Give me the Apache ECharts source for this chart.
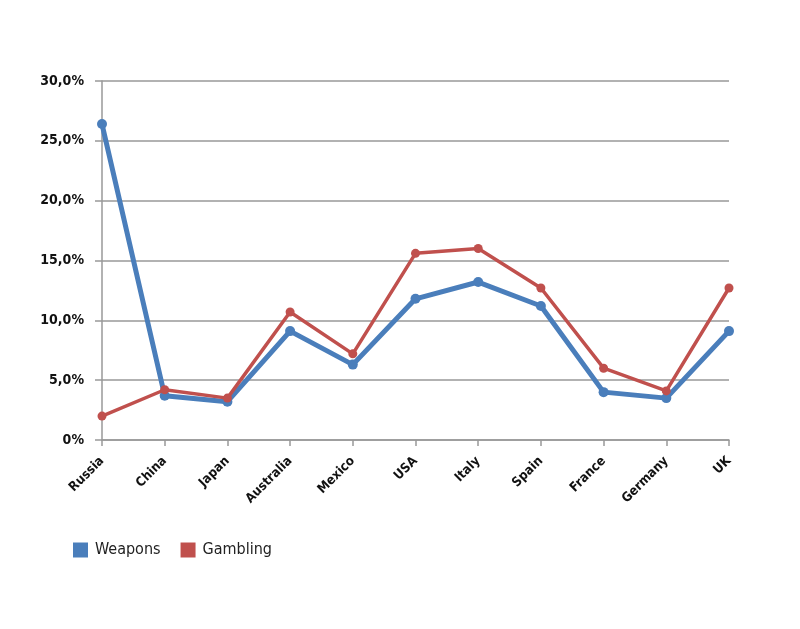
<!DOCTYPE html>
<html><head><meta charset="utf-8">
<script src="https://cdn.jsdelivr.net/npm/echarts@6/dist/echarts.min.js"></script>
<style>html,body{margin:0;padding:0;background:#fff}#c{width:800px;height:629px}</style>
</head><body><div id="c"></div>
<script>
const categories = ['Russia','China','Japan','Australia','Mexico','USA','Italy','Spain','France','Germany','UK'];
const weapons = [26.4, 3.7, 3.2, 9.1, 6.3, 11.8, 13.2, 11.2, 4.0, 3.5, 9.1];
const gambling = [2.0, 4.2, 3.5, 10.7, 7.2, 15.6, 16.0, 12.7, 6.0, 4.1, 12.7];
const yTicks = [0, 5, 10, 15, 20, 25, 30];

const FONT = "'DejaVu Sans Condensed', 'Liberation Sans Narrow', 'Arial Narrow', sans-serif";
const chart = echarts.init(document.getElementById('c'));
chart.setOption({
  animation: false,
  backgroundColor: '#fff',
  grid: { left: 102, right: 71, top: 81, bottom: 189, containLabel: false },
  legend: {
    left: 68, top: 537, icon: 'rect', itemWidth: 15, itemHeight: 15, itemGap: 20,
    textStyle: { fontFamily: FONT, fontSize: 16, color: '#222', padding: [0, 0, 0, 2] },
    data: ['Weapons', 'Gambling']
  },
  xAxis: {
    type: 'category', data: categories, boundaryGap: false,
    axisLine: { lineStyle: { color: '#999', width: 1.5 } },
    axisTick: { show: true, alignWithLabel: true, length: 6, lineStyle: { color: '#999', width: 1.5 } },
    axisLabel: { rotate: 45, interval: 0, margin: 19, fontFamily: FONT, fontWeight: 'bold', fontSize: 13, color: '#111' }
  },
  yAxis: {
    type: 'value', min: yTicks[0], max: yTicks[yTicks.length - 1], interval: 5,
    axisLine: { show: true, lineStyle: { color: '#999', width: 1.5 } },
    axisTick: { show: true, length: 7, lineStyle: { color: '#999', width: 1.5 } },
    splitLine: { lineStyle: { color: '#999', width: 1.5 } },
    axisLabel: {
      margin: 18, fontFamily: FONT, fontWeight: 'bold', fontSize: 14, color: '#111',
      formatter: v => v === 0 ? '0%' : v.toFixed(1).replace('.', ',') + '%'
    }
  },
  series: [
    { name: 'Weapons', type: 'line', data: weapons, symbol: 'circle', symbolSize: 10,
      itemStyle: { color: '#4a7ebb' }, lineStyle: { color: '#4a7ebb', width: 5 }, z: 2 },
    { name: 'Gambling', type: 'line', data: gambling, symbol: 'circle', symbolSize: 9,
      itemStyle: { color: '#c0504d' }, lineStyle: { color: '#c0504d', width: 3.5 }, z: 3 }
  ]
});
</script></body></html>
